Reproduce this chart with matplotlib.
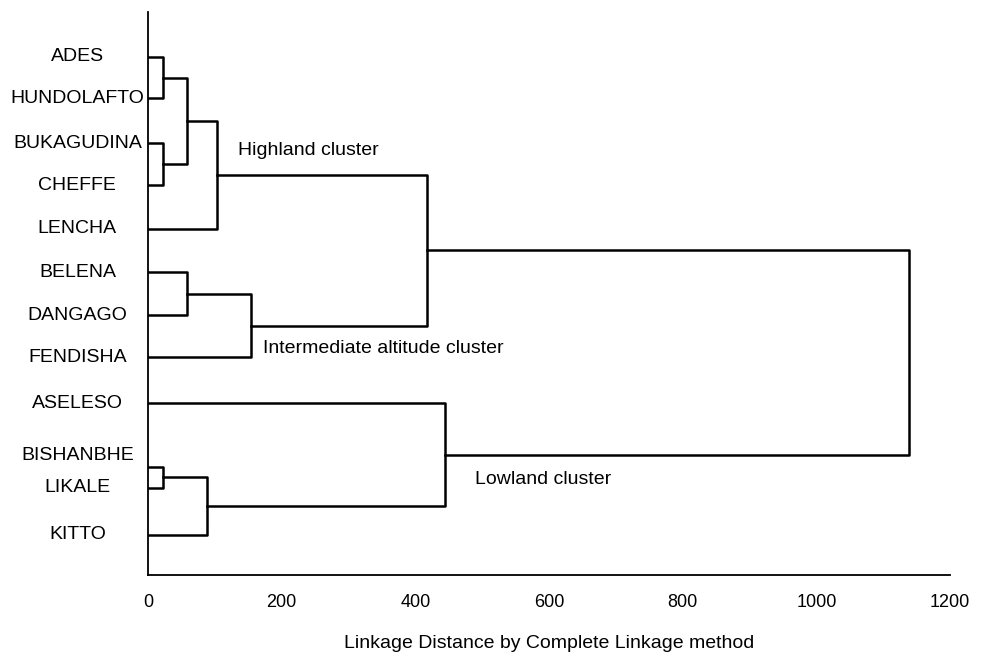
import numpy as np
import matplotlib.pyplot as plt
from matplotlib.transforms import blended_transform_factory

plt.rcParams['font.family'] = ['Liberation Sans', 'DejaVu Sans']

leaves = ['ADES', 'HUNDOLAFTO', 'BUKAGUDINA', 'CHEFFE', 'LENCHA', 'BELENA',
          'DANGAGO', 'FENDISHA', 'ASELESO', 'BISHANBHE', 'LIKALE', 'KITTO']
leaf_pos = [0, 0.95, 1.98, 2.95, 3.95, 4.95, 5.93, 6.9, 7.95, 9.42, 9.9, 10.98]
label_pos = [0, 0.95, 1.98, 2.95, 3.95, 4.95, 5.93, 6.9, 7.95, 9.15, 9.9, 10.98]

# merges: (left node, right node, height); nodes >= 12 are earlier merges
merges = [(0, 1, 22), (2, 3, 22), (12, 13, 58), (14, 4, 103),
          (5, 6, 58), (16, 7, 154), (15, 17, 418),
          (9, 10, 22), (19, 11, 88), (8, 20, 445), (18, 21, 1139)]

clusters = ['Highland cluster', 'Intermediate altitude cluster', 'Lowland cluster']
cluster_xy = [(135, 2.15), (172, 6.7), (490, 9.7)]

fig = plt.figure(figsize=(9.82, 6.55), dpi=100)
ax = fig.add_axes([148 / 982, 80 / 655, 802 / 982, 563 / 655])

ypos = list(leaf_pos)
xpos = [0] * len(leaves)
for a, b, h in merges:
    ya, yb = ypos[a], ypos[b]
    ax.plot([xpos[a], h, h, xpos[b]], [ya, ya, yb, yb], color='black', lw=1.8)
    ypos.append((ya + yb) / 2)
    xpos.append(h)

tr = blended_transform_factory(ax.transAxes, ax.transData)
for name, y in zip(leaves, label_pos):
    ax.text(-0.088, y, name, transform=tr, ha='center', va='center', fontsize=14)

for txt, (x, y) in zip(clusters, cluster_xy):
    ax.text(x, y, txt, fontsize=14, va='center')

ax.set_xlim(0, 1200)
ax.set_ylim(11.9, -1.03)
ax.set_yticks([])
ax.set_xticks([0, 200, 400, 600, 800, 1000, 1200])
ax.tick_params(axis='x', length=0, labelsize=13, pad=14)
ax.spines['top'].set_visible(False)
ax.spines['right'].set_visible(False)
ax.spines['left'].set_linewidth(1.3)
ax.spines['bottom'].set_linewidth(1.3)
ax.set_xlabel('Linkage Distance by Complete Linkage method', fontsize=14, labelpad=17)

fig.savefig('out.png', dpi=100)
